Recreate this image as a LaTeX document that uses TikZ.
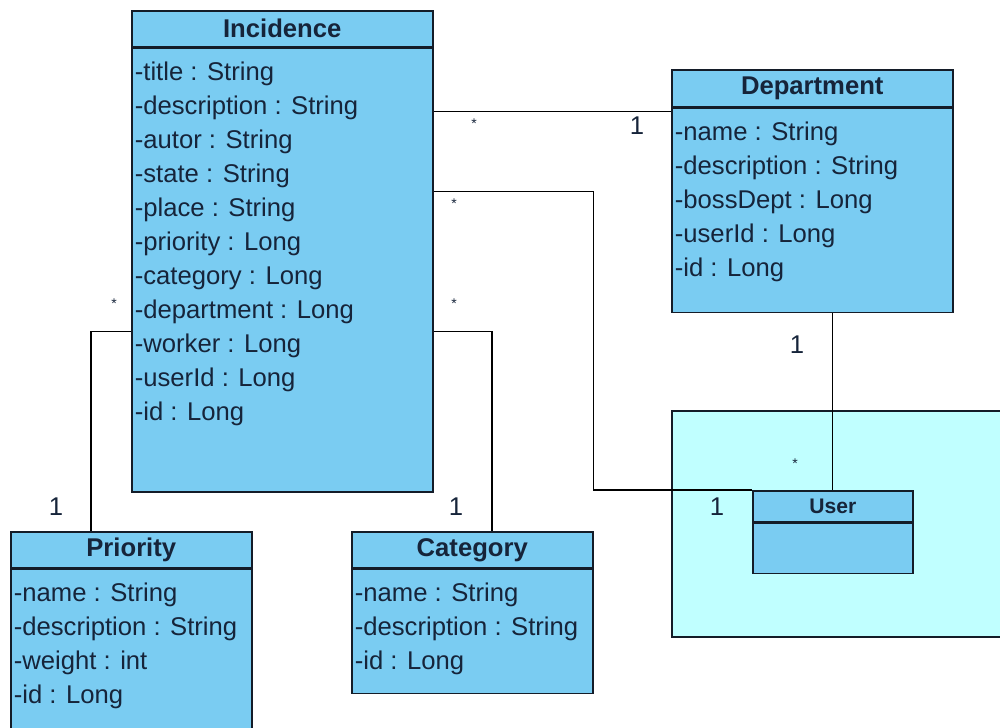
\documentclass[tikz,border=0pt]{standalone}
\usepackage{fontspec}
\setmainfont{Liberation Sans}
\definecolor{classblue}{RGB}{122,204,242}
\definecolor{pkgcyan}{RGB}{192,255,255}
\definecolor{inkblue}{RGB}{22,36,58}
\definecolor{edgeink}{RGB}{20,28,40}
\tikzset{
  classhead/.style={draw=edgeink, fill=classblue, line width=0.9pt, inner sep=0pt,
    anchor=north west, text=inkblue, font=\fontsize{14.6}{17}\selectfont\bfseries},
  classbody/.style={draw=edgeink, fill=classblue, line width=0.9pt, inner sep=0pt,
    anchor=north west},
  attrs/.style={anchor=north west, inner sep=0pt, align=left, text=inkblue,
    font=\fontsize{14.6}{19.4}\selectfont},
  mult/.style={inner sep=0pt, text=inkblue, font=\fontsize{14.6}{17}\selectfont},
  many/.style={inner sep=0pt, text=inkblue, font=\fontsize{8}{9}\selectfont},
  assoc/.style={line width=0.8pt, draw=black}
}
\begin{document}
\begin{tikzpicture}[x=0.02cm,y=-0.02cm]
      \clip (0,0) rectangle (1000,727);

      % package
      \draw[fill=pkgcyan, draw=edgeink, line width=0.9pt] (672,411) rectangle (1020,637);

      % classes
      \node[classhead, minimum width=6.02cm, minimum height=0.72cm] (inc-head) at (131,10) {Incidence};
      \node[classbody, minimum width=6.02cm, minimum height=8.88cm] (inc-body) at (inc-head.south west) {};
      \node[attrs] (inc-attr) at ([xshift=0.07cm,yshift=-0.27cm]inc-body.north west)
        {-title : String\\-description : String\\-autor : String\\-state : String\\-place : String\\-priority : Long\\-category : Long\\-department : Long\\-worker : Long\\-userId : Long\\-id : Long};

      \node[classhead, minimum width=5.62cm, minimum height=0.74cm] (dep-head) at (671,69) {Department};
      \node[classbody, minimum width=5.62cm, minimum height=4.08cm] (dep-body) at (dep-head.south west) {};
      \node[attrs] (dep-attr) at ([xshift=0.07cm,yshift=-0.27cm]dep-body.north west)
        {-name : String\\-description : String\\-bossDept : Long\\-userId : Long\\-id : Long};

      \node[classhead, minimum width=4.82cm, minimum height=0.72cm] (pri-head) at (10,531) {Priority};
      \node[classbody, minimum width=4.82cm, minimum height=3.6cm] (pri-body) at (pri-head.south west) {};
      \node[attrs] (pri-attr) at ([xshift=0.07cm,yshift=-0.27cm]pri-body.north west)
        {-name : String\\-description : String\\-weight : int\\-id : Long};

      \node[classhead, minimum width=4.82cm, minimum height=0.72cm] (cat-head) at (351,531) {Category};
      \node[classbody, minimum width=4.82cm, minimum height=2.48cm] (cat-body) at (cat-head.south west) {};
      \node[attrs] (cat-attr) at ([xshift=0.07cm,yshift=-0.27cm]cat-body.north west)
        {-name : String\\-description : String\\-id : Long};

      \node[classhead, minimum width=3.2cm, minimum height=0.62cm, font=\fontsize{12}{14}\selectfont\bfseries] (usr-head) at (752,490) {User};
      \node[classbody, minimum width=3.2cm, minimum height=1cm] (usr-body) at (usr-head.south west) {};

      % associations
      \coordinate (inc-r1) at ([yshift=-0.08cm]dep-body.north west);
      \coordinate (inc-r2) at ([yshift=-2.88cm]inc-body.north east);
      \coordinate (inc-r3) at ([yshift=-5.68cm]inc-body.north east);
      \coordinate (inc-l) at ([yshift=-5.68cm]inc-body.north west);
      \draw[assoc] (inc-r1 -| inc-body.east) -- (inc-r1);
      \draw[assoc] (inc-r2) -- ++(160,0) |- (usr-head.north west);
      \draw[assoc] (dep-body.south -| usr-head.north) -- (usr-head.north);
      \draw[assoc] (inc-l) -| ([xshift=1.62cm]pri-head.north west);
      \draw[assoc] (inc-r3) -| ([xshift=2.82cm]cat-head.north west);

      % multiplicities
      \node[many] (m-inc-dep) at (474,124) {*};
      \node[mult] (m-dep-inc) at (637,126) {1};
      \node[many] (m-inc-usr) at (454,204) {*};
      \node[many] (m-inc-cat) at (454,304) {*};
      \node[many] (m-inc-pri) at (114,304) {*};
      \node[mult] (m-pri) at (56,507) {1};
      \node[mult] (m-cat) at (456,507) {1};
      \node[mult] (m-dep-usr) at (797,345) {1};
      \node[many] (m-usr-dep) at (795,464) {*};
      \node[mult] (m-usr-inc) at (717,507) {1};
\end{tikzpicture}
\end{document}
